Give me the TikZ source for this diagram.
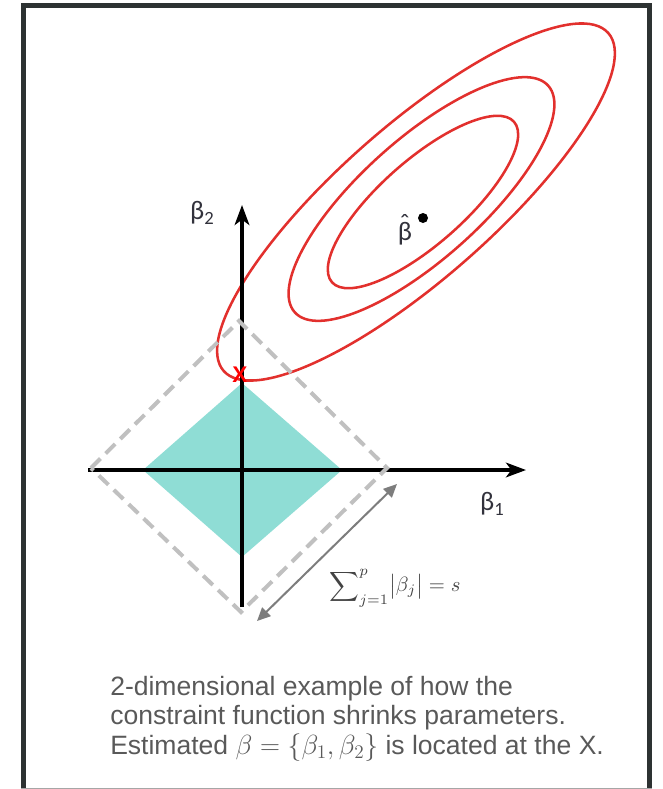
\documentclass[tikz,border=0pt]{standalone}
\usepackage{graphicx}
\usepackage[no-math]{fontspec}
\setmainfont{Liberation Sans}
\newfontfamily\lblfont{Carlito}
\usetikzlibrary{arrows.meta}
\definecolor{tealfill}{RGB}{143,221,213}
\definecolor{dashgray}{RGB}{192,192,192}
\definecolor{ellred}{RGB}{226,48,45}
\definecolor{capgray}{RGB}{89,89,89}
\definecolor{framec}{RGB}{45,50,50}
\definecolor{arrgray}{RGB}{125,125,125}
\definecolor{lblc}{RGB}{50,50,60}
\begin{document}
\begin{tikzpicture}[x=0.75pt,y=-0.75pt,
  axisline/.style={line width=2.4pt, black, -{Stealth[length=15pt,width=11pt,inset=4pt]}},
  dashdiamond/.style={dashgray, line width=3pt, dash pattern=on 10pt off 5.5pt, line join=miter},
  ell/.style={ellred, line width=1.9pt},
  dblarrow/.style={arrgray, line width=1.5pt, {Triangle[length=10pt,width=9pt]}-{Triangle[length=10pt,width=9pt]}},
  lbl/.style={font=\lblfont\fontsize{20}{20}\selectfont, text=lblc, inner sep=0pt},
  captxt/.style={anchor=base west, inner sep=0pt, text height=14pt, text depth=3pt, font=\fontsize{19.9}{23}\selectfont, text=capgray},
]
\useasboundingbox (0,0) rectangle (662,789);
% frame
\draw[framec, line width=3.75pt, line join=miter] (23.5,790) -- (23.5,5.8) -- (649.5,5.8) -- (649.5,790);
\draw[gray!70, line width=0.75pt] (21,788.3) -- (652,788.3);

% coordinates
\coordinate (O) at (242,470);
\coordinate (xL) at (88,470);
\coordinate (xR) at (526,470);
\coordinate (yB) at (242,607);
\coordinate (yT) at (242,205);
\coordinate (tL) at (143,470);
\coordinate (tT) at (242,383);
\coordinate (tR) at (342,470);
\coordinate (tB) at (242,557);
\coordinate (dL) at (91,468);
\coordinate (dT) at (239,321);
\coordinate (dR) at (387,468);
\coordinate (dB) at (241,612);
\coordinate (aLo) at (257,621);
\coordinate (aHi) at (397,484);
\coordinate (C1) at (416,202);
\coordinate (C2) at (421.5,199);
\coordinate (C3) at (423,202);

% teal constraint region
\fill[tealfill] (tL) -- (tT) -- (tR) -- (tB) -- cycle;

% ellipses
\draw[ell, rotate around={41.3:(C1)}] (C1) ellipse [x radius=192pt, y radius=57.5pt];
\draw[ell, rotate around={41.8:(C2)}] (C2) ellipse [x radius=127.5pt, y radius=45pt];
\draw[ell, rotate around={41.4:(C3)}] (C3) ellipse [x radius=91pt, y radius=31.5pt];

% axes
\draw[axisline] (yB) -- (yT);
\draw[axisline] (xL) -- (xR);

% dashed diamond
\draw[dashdiamond] (dL) -- (dT) -- (dR) -- (dB) -- cycle;

% double arrow
\draw[dblarrow] (aLo) -- (aHi);

% labels
\node[lbl] (b2) at (202,213) {β\raisebox{-3.5pt}{\fontsize{14}{14}\selectfont 2}};
\node[lbl] (b1) at (492,504) {β\raisebox{-3.5pt}{\fontsize{14}{14}\selectfont 1}};
\node[lbl, anchor=base] (bh) at (405,240) {\ooalign{β\cr\hidewidth\raisebox{5.5pt}{\char"02C6}\hidewidth\cr}};
\node[circle, fill=black, inner sep=0pt, minimum size=7.5pt] (dot) at (423,218) {};
\node[text=red, font=\bfseries\fontsize{17}{17}\selectfont, inner sep=0pt] (xmark) at (240,375) {X};
\node[text=capgray!75!black, inner sep=0pt] (sum) at (395,588) {\scalebox{1.55}{$\displaystyle\sum\nolimits_{j=1}^{p}\bigl|\beta_j\bigr| = s$}};

% caption
\node[captxt] (c1) at (110,695) {2-dimensional example of how the};
\node[captxt] (c2) at (110,724.5) {constraint function shrinks parameters.};
\node[captxt] (c3) at (110,754) {Estimated $\beta = \{\beta_1, \beta_2\}$ is located at the X.};
\end{tikzpicture}
\end{document}
